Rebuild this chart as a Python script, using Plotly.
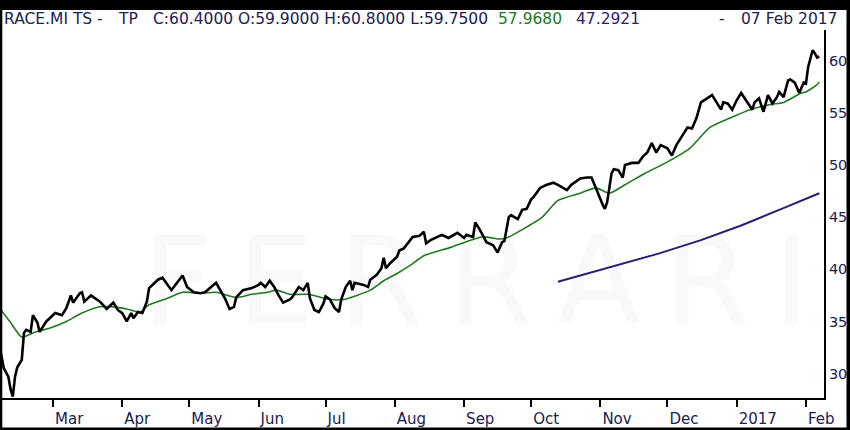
import plotly.graph_objects as go

# ---------------- data ----------------
price_dates = [
    "2016-02-06", "2016-02-08", "2016-02-10", "2016-02-11", "2016-02-12", "2016-02-13", "2016-02-14",
    "2016-02-15", "2016-02-16", "2016-02-17", "2016-02-18", "2016-02-20", "2016-02-21", "2016-02-23",
    "2016-02-24", "2016-02-27", "2016-03-02", "2016-03-05", "2016-03-07", "2016-03-09", "2016-03-10",
    "2016-03-13", "2016-03-14", "2016-03-15", "2016-03-18", "2016-03-22", "2016-03-25", "2016-03-28",
    "2016-03-30", "2016-04-01", "2016-04-03", "2016-04-05", "2016-04-06", "2016-04-08", "2016-04-10",
    "2016-04-12", "2016-04-13", "2016-04-17", "2016-04-19", "2016-04-23", "2016-04-28", "2016-04-30",
    "2016-05-03", "2016-05-06", "2016-05-08", "2016-05-13", "2016-05-15", "2016-05-17", "2016-05-19",
    "2016-05-21", "2016-05-22", "2016-05-25", "2016-05-29", "2016-06-01", "2016-06-02", "2016-06-04",
    "2016-06-06", "2016-06-08", "2016-06-10", "2016-06-12", "2016-06-15", "2016-06-16", "2016-06-19",
    "2016-06-21", "2016-06-23", "2016-06-24", "2016-06-26", "2016-06-28", "2016-06-30", "2016-07-01",
    "2016-07-03", "2016-07-05", "2016-07-07", "2016-07-08", "2016-07-10", "2016-07-12", "2016-07-13",
    "2016-07-14", "2016-07-18", "2016-07-20", "2016-07-21", "2016-07-24", "2016-07-26", "2016-07-27",
    "2016-07-28", "2016-07-30", "2016-08-02", "2016-08-03", "2016-08-05", "2016-08-07", "2016-08-09",
    "2016-08-12", "2016-08-14", "2016-08-15", "2016-08-17", "2016-08-22", "2016-08-25", "2016-08-29",
    "2016-09-01", "2016-09-02", "2016-09-05", "2016-09-06", "2016-09-08", "2016-09-11", "2016-09-14",
    "2016-09-16", "2016-09-18", "2016-09-19", "2016-09-21", "2016-09-22", "2016-09-25", "2016-09-27",
    "2016-09-29", "2016-10-01", "2016-10-02", "2016-10-05", "2016-10-08", "2016-10-11", "2016-10-13",
    "2016-10-17", "2016-10-19", "2016-10-21", "2016-10-23", "2016-10-26", "2016-10-28", "2016-10-29",
    "2016-10-31", "2016-11-02", "2016-11-03", "2016-11-04", "2016-11-06", "2016-11-07", "2016-11-09",
    "2016-11-11", "2016-11-12", "2016-11-15", "2016-11-18", "2016-11-20", "2016-11-22", "2016-11-24",
    "2016-11-26", "2016-11-28", "2016-12-01", "2016-12-03", "2016-12-05", "2016-12-08", "2016-12-10",
    "2016-12-12", "2016-12-14", "2016-12-16", "2016-12-19", "2016-12-21", "2016-12-23", "2016-12-25",
    "2016-12-26", "2016-12-28", "2016-12-30", "2017-01-01", "2017-01-03", "2017-01-06", "2017-01-08",
    "2017-01-09", "2017-01-11", "2017-01-13", "2017-01-15", "2017-01-17", "2017-01-19", "2017-01-20",
    "2017-01-22", "2017-01-24", "2017-01-25", "2017-01-27", "2017-01-29", "2017-01-31", "2017-02-01",
    "2017-02-02", "2017-02-04", "2017-02-05", "2017-02-06", "2017-02-07",
]
price_values = [
    32.7, 30.5, 29.7, 28.5, 27.8, 29.7, 30.6,
    31.0, 31.3, 33.9, 34.2, 34.0, 35.6, 34.9,
    34.0, 35.0, 35.8, 35.6, 36.3, 37.5, 36.8,
    37.7, 37.8, 36.9, 37.5, 36.9, 36.2, 36.8,
    36.1, 35.8, 35.0, 35.8, 35.3, 35.9, 35.8,
    36.9, 38.2, 39.0, 39.2, 38.0, 39.4, 38.3,
    37.8, 37.7, 37.8, 38.7, 38.0, 37.2, 36.2,
    36.4, 37.3, 38.0, 38.2, 38.5, 38.7, 38.3,
    38.9, 38.3, 37.5, 36.8, 37.1, 37.3, 38.3,
    38.0, 38.7, 37.2, 36.1, 35.9, 36.7, 37.4,
    37.1, 36.3, 35.9, 37.1, 38.3, 38.9, 38.0,
    38.7, 38.5, 38.3, 39.0, 39.5, 40.1, 41.1,
    40.1, 40.6, 41.2, 41.8, 42.0, 42.5, 43.1,
    43.2, 43.6, 42.5, 42.8, 43.3, 43.0, 43.5,
    43.0, 43.3, 43.1, 44.5, 43.8, 42.6, 42.3,
    41.6, 42.6, 42.7, 45.0, 45.2, 44.8, 45.7,
    45.8, 46.7, 46.9, 47.8, 48.1, 48.3, 48.1,
    47.6, 48.1, 48.4, 48.7, 48.8, 48.8, 48.3,
    47.2, 46.2, 45.8, 46.4, 49.2, 49.6, 49.5,
    48.8, 50.0, 50.2, 50.2, 50.8, 51.2, 52.1,
    51.2, 51.9, 51.6, 50.9, 51.9, 52.9, 53.6,
    53.5, 54.5, 56.0, 56.4, 56.7, 56.0, 55.3,
    56.0, 55.9, 55.3, 56.2, 56.9, 56.0, 55.3,
    56.0, 56.4, 55.1, 56.7, 55.9, 56.5, 57.0,
    56.5, 58.1, 58.2, 57.9, 56.9, 57.9, 57.8,
    59.4, 61.0, 60.7, 60.3, 60.4,
]

ma_short_dates = [
    "2016-02-06", "2016-02-11", "2016-02-16", "2016-02-21", "2016-02-29", "2016-03-07", "2016-03-14",
    "2016-03-22", "2016-03-28", "2016-04-03", "2016-04-09", "2016-04-13", "2016-04-21", "2016-04-28",
    "2016-05-06", "2016-05-13", "2016-05-22", "2016-05-29", "2016-06-05", "2016-06-09", "2016-06-15",
    "2016-06-23", "2016-07-03", "2016-07-09", "2016-07-21", "2016-07-27", "2016-08-02", "2016-08-08",
    "2016-08-14", "2016-08-26", "2016-09-09", "2016-09-17", "2016-09-20", "2016-09-27", "2016-10-06",
    "2016-10-13", "2016-10-23", "2016-10-30", "2016-11-05", "2016-11-12", "2016-11-21", "2016-12-01",
    "2016-12-11", "2016-12-20", "2016-12-29", "2017-01-07", "2017-01-16", "2017-01-22", "2017-01-30",
    "2017-02-01", "2017-02-06", "2017-02-07",
]
ma_short_values = [
    36.3, 34.9, 33.5, 33.9, 34.4, 35.0, 35.8,
    36.4, 36.4, 36.2, 35.9, 36.6, 37.2, 37.8,
    37.7, 37.8, 37.3, 37.6, 37.8, 38.0, 37.6,
    37.6, 37.1, 37.1, 38.0, 38.9, 39.6, 40.4,
    41.3, 42.1, 43.1, 42.9, 43.0, 43.8, 45.0,
    46.6, 47.3, 47.8, 47.3, 48.1, 49.2, 50.3,
    51.6, 53.6, 54.5, 55.3, 55.8, 56.0, 56.9,
    57.0, 57.7, 57.968,
]

ma_long_dates = [
    "2016-10-13", "2016-10-30", "2016-11-12", "2016-11-27", "2016-12-16", "2017-01-03",
    "2017-01-20", "2017-02-07",
]
ma_long_values = [38.8, 39.8, 40.6, 41.5, 42.8, 44.2, 45.7, 47.2921]

month_ticks = [
    "2016-03-01", "2016-04-01", "2016-05-01", "2016-06-01", "2016-07-01", "2016-08-01",
    "2016-09-01", "2016-10-01", "2016-11-01", "2016-12-01", "2017-01-01", "2017-02-01",
]
month_labels = ["Mar", "Apr", "May", "Jun", "Jul", "Aug", "Sep", "Oct", "Nov", "Dec", "2017", "Feb"]
y_ticks = [30, 35, 40, 45, 50, 55, 60]

# ---------------- style ----------------
NAVY = "#1c2051"
GREEN = "#1f7a1f"
PURPLE = "#2c1c72"
FONT = "DejaVu Sans"

fig = go.Figure()
fig.add_trace(go.Scatter(x=ma_long_dates, y=ma_long_values, mode="lines",
                         line=dict(color=PURPLE, width=2), hoverinfo="skip"))
fig.add_trace(go.Scatter(x=ma_short_dates, y=ma_short_values, mode="lines",
                         line=dict(color=GREEN, width=1.6, shape="spline", smoothing=0.6),
                         hoverinfo="skip"))
fig.add_trace(go.Scatter(x=price_dates, y=price_values, mode="lines",
                         line=dict(color="black", width=2.6), hoverinfo="skip"))

# plot area: px x 2..824, y 30..398
PW, PH = 822.0, 368.0


def px(xp):
    return (xp - 2) / PW


def py(yp):
    return (398 - yp) / PH


TS = "\u2009"
shapes = [
    # faint watermark (below traces)
    dict(type="rect", xref="paper", yref="paper", x0=px(140), x1=px(812), y0=py(328), y1=py(215),
         line=dict(width=0), fillcolor="rgba(0,0,0,0)", layer="below",
         label=dict(text=TS.join("FERRARI"), font=dict(family=FONT, size=122, color="#f9f9f9"),
                    textposition="middle center")),
    # outer black frame
    dict(type="rect", xref="paper", yref="paper", x0=px(-10), x1=px(860), y0=py(10), y1=py(-10),
         line=dict(width=0), fillcolor="black", layer="above"),
    dict(type="rect", xref="paper", yref="paper", x0=px(-10), x1=px(2.3), y0=py(440), y1=py(-10),
         line=dict(width=0), fillcolor="black", layer="above"),
    dict(type="rect", xref="paper", yref="paper", x0=px(846.5), x1=px(860), y0=py(440), y1=py(-10),
         line=dict(width=0), fillcolor="black", layer="above"),
    dict(type="rect", xref="paper", yref="paper", x0=px(-10), x1=px(860), y0=py(440), y1=py(427.5),
         line=dict(width=0), fillcolor="black", layer="above"),
]

TY = py(19)
annotations = []


def title_piece(text, xp, color, anchor="left"):
    annotations.append(dict(text=text, xref="paper", yref="paper", x=px(xp), y=TY,
                            xanchor=anchor, yanchor="middle", showarrow=False,
                            font=dict(family=FONT, size=15.5, color=color)))


title_piece("RACE.MI TS -", 2, NAVY)
title_piece("TP", 116, NAVY)
title_piece("C:60.4000 O:59.9000 H:60.8000 L:59.7500", 151, NAVY)
title_piece("57.9680", 496, GREEN)
title_piece("47.2921", 574, PURPLE)
title_piece("-", 717, NAVY)
title_piece("07 Feb 2017", 839, NAVY, anchor="right")

fig.update_layout(
    width=850, height=430,
    margin=dict(l=2, r=26, t=30, b=32, pad=0, autoexpand=False),
    paper_bgcolor="white", plot_bgcolor="white",
    showlegend=False,
    shapes=shapes,
    annotations=annotations,
    xaxis=dict(
        type="date",
        range=["2016-02-07 04:00", "2017-02-09 02:00"],
        tickmode="array", tickvals=month_ticks, ticktext=month_labels,
        ticks="outside", ticklen=7, tickwidth=2, tickcolor="black",
        ticklabelposition="outside right", ticklabelstandoff=6,
        showline=True, linewidth=2, linecolor="black",
        showgrid=False, zeroline=False, automargin=False,
        tickfont=dict(family=FONT, size=15, color=NAVY),
    ),
    yaxis=dict(
        side="right",
        range=[27.66, 62.94],
        tickmode="array", tickvals=y_ticks,
        ticks="", ticklen=0, showline=True, linewidth=2, linecolor="black",
        showgrid=False, zeroline=False, automargin=False,
        tickfont=dict(family=FONT, size=14.5, color=NAVY),
    ),
)

fig.write_html(
    "out.html",
    config={"displayModeBar": False},
    post_script="document.body.style.margin='0';document.body.style.overflow='hidden';",
)
